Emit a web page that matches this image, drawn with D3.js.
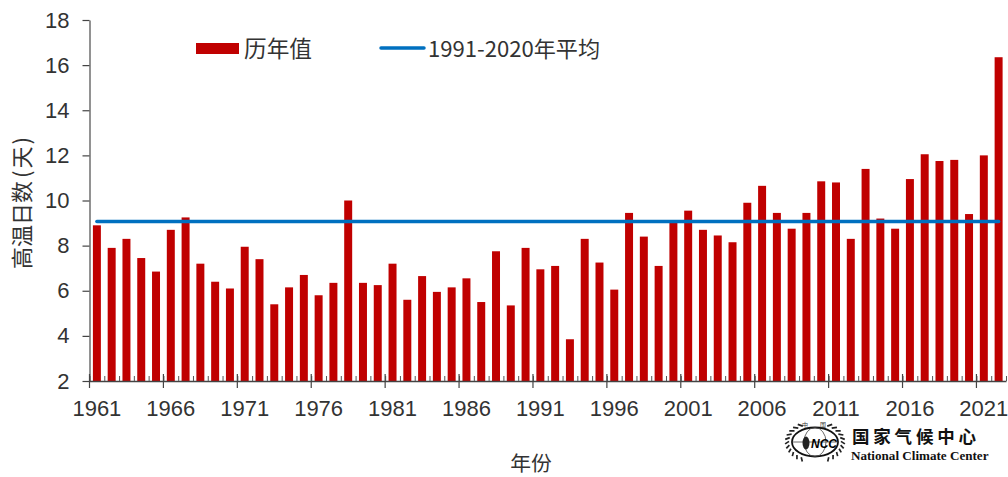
<!DOCTYPE html>
<html>
<head>
<meta charset="utf-8">
<script src="https://cdn.jsdelivr.net/npm/d3@7"></script>
<style>
  html, body { margin: 0; padding: 0; background: #fff; overflow: hidden; }
  text { fill: #333; font-family: "Liberation Sans", Arial, sans-serif; }
  .cjk { font-family: "Noto Sans CJK SC", sans-serif; }
</style>
</head>
<body>
<div id="chart"></div>
<script>
const years = d3.range(1961, 2023);
const days = [
  8.9, 7.9, 8.3, 7.45, 6.85, 8.7, 9.25, 7.2, 6.4, 6.1,
  7.95, 7.4, 5.4, 6.15, 6.7, 5.8, 6.35, 10, 6.35, 6.25,
  7.2, 5.6, 6.65, 5.95, 6.15, 6.55, 5.5, 7.75, 5.35, 7.9,
  6.95, 7.1, 3.85, 8.3, 7.25, 6.05, 9.45, 8.4, 7.1, 9.05,
  9.55, 8.7, 8.45, 8.15, 9.9, 10.65, 9.45, 8.75, 9.45, 10.85,
  10.8, 8.3, 11.4, 9.2, 8.75, 10.95, 12.05, 11.75, 11.8, 9.4,
  12.0, 16.35
];
const average = 9.07;
const yTicks = [2, 4, 6, 8, 10, 12, 14, 16, 18];
const labelYears = d3.range(1961, 2022, 5);

const width = 1008, height = 477;
const plotLeft = 89.5, plotRight = 1006, plotTop = 20, plotBottom = 381;

const svg = d3.select('#chart').append('svg')
  .attr('width', width)
  .attr('height', height)
  .style('display', 'block');

const x = d3.scaleBand().domain(years).range([plotLeft, plotRight]).paddingInner(0.46).paddingOuter(0.23);
// same span as the bands, used for ticks which sit between the bars
const xEdge = d3.scaleLinear().domain([1961, 2023]).range([plotLeft, plotRight]);
const y = d3.scaleLinear().domain([2, 18]).range([plotBottom, plotTop]);

// bars
svg.append('g').selectAll('rect')
  .data(years)
  .enter().append('rect')
  .attr('x', d => x(d))
  .attr('width', x.bandwidth())
  .attr('y', (d, i) => y(days[i]))
  .attr('height', (d, i) => plotBottom - y(days[i]))
  .attr('fill', '#c00000');

// mean line
const mean = d3.line().x(d => x(d) + x.bandwidth() / 2).y(() => y(average));
svg.append('path')
  .attr('d', mean([years[0], years[years.length - 1]]))
  .attr('fill', 'none')
  .attr('stroke', '#0070c0')
  .attr('stroke-width', 3.5)
  .attr('stroke-linecap', 'round');

// y axis
const yAxis = svg.append('g')
  .attr('transform', `translate(${plotLeft},0)`)
  .call(d3.axisLeft(y).tickValues(yTicks).tickSize(7).tickPadding(13).tickSizeOuter(0));
yAxis.selectAll('text').style('font-size', '22px').attr('dy', '0.32em');
yAxis.selectAll('line').attr('stroke', '#444').attr('stroke-width', 1.2);
yAxis.select('.domain').attr('stroke', '#777').attr('stroke-width', 1.6);

// x axis: minor ticks inside, major ones across the line
const minor = svg.append('g')
  .attr('transform', `translate(0,${plotBottom})`)
  .call(d3.axisTop(xEdge).tickValues(d3.range(1961, 2024)).tickSize(5).tickFormat('').tickSizeOuter(0));
minor.selectAll('line').attr('stroke', '#555').attr('stroke-width', 1);
minor.select('.domain').attr('stroke', '#444').attr('stroke-width', 1.3);

const major = svg.append('g').attr('transform', `translate(0,${plotBottom})`);
major.selectAll('line')
  .data(labelYears)
  .enter().append('line')
  .attr('x1', d => xEdge(d)).attr('x2', d => xEdge(d))
  .attr('y1', -7).attr('y2', 7)
  .attr('stroke', '#444')
  .attr('stroke-width', 1.2);

svg.append('g').selectAll('text')
  .data(labelYears)
  .enter().append('text')
  .attr('x', d => x(d) + x.bandwidth() / 2)
  .attr('y', 416)
  .attr('text-anchor', 'middle')
  .style('font-size', '22px')
  .text(d => d);

// axis titles
const yTitle = svg.append('text')
  .attr('class', 'cjk')
  .attr('transform', 'translate(30,203) rotate(-90)')
  .attr('text-anchor', 'middle')
  .style('font-size', '22px');
yTitle.append('tspan').text('高温日数');
yTitle.append('tspan').attr('dx', 3).text('(');
yTitle.append('tspan').attr('dx', 2).text('天');
yTitle.append('tspan').attr('dx', 2).text(')');

svg.append('text')
  .attr('class', 'cjk')
  .attr('x', 531)
  .attr('y', 471)
  .attr('text-anchor', 'middle')
  .style('font-size', '20.8px')
  .text('年份');

// legend
svg.append('rect')
  .attr('x', 196).attr('y', 43).attr('width', 43).attr('height', 11)
  .attr('fill', '#c00000');
svg.append('text')
  .attr('class', 'cjk')
  .attr('x', 244).attr('y', 57)
  .style('font-size', '22.7px')
  .text('历年值');
svg.append('line')
  .attr('x1', 381).attr('x2', 424).attr('y1', 48).attr('y2', 48)
  .attr('stroke', '#0070c0').attr('stroke-width', 3.5).attr('stroke-linecap', 'round');
svg.append('text')
  .attr('class', 'cjk')
  .attr('x', 428).attr('y', 57)
  .style('font-size', '22.1px')
  .text('1991-2020年平均');

// NCC logo
const logo = svg.append('g').attr('transform', 'translate(815,442)');
logo.append('ellipse').attr('rx', 23).attr('ry', 14.5)
  .attr('fill', 'none').attr('stroke', '#111').attr('stroke-width', 1.8);
logo.append('ellipse').attr('rx', 11).attr('ry', 14.5)
  .attr('fill', 'none').attr('stroke', '#444').attr('stroke-width', 0.8);
logo.append('line').attr('x1', -23).attr('x2', 23)
  .attr('stroke', '#444').attr('stroke-width', 0.8);
logo.append('ellipse').attr('cx', -9).attr('cy', 1).attr('rx', 3.5).attr('ry', 6.5)
  .attr('fill', '#222');
// wreath leaves on both sides, the top stays open for the two characters
const leafAngles = d3.range(-62, 63, 12);
[-1, 1].forEach(side => {
  logo.append('g').selectAll('line')
    .data(leafAngles)
    .enter().append('line')
    .attr('x1', d => side * 26 * Math.cos(d * Math.PI / 180))
    .attr('y1', d => 18 * Math.sin(d * Math.PI / 180))
    .attr('x2', d => side * 30 * Math.cos((d + 7) * Math.PI / 180))
    .attr('y2', d => 21.5 * Math.sin((d + 7) * Math.PI / 180))
    .attr('stroke', '#222')
    .attr('stroke-width', 1.7);
});
logo.append('text')
  .attr('x', 9).attr('y', 6)
  .attr('text-anchor', 'middle')
  .style('font-size', '12px').style('font-weight', 'bold').style('font-style', 'italic').style('fill', '#000')
  .text('NCC');
logo.append('text').attr('class', 'cjk').attr('x', -10).attr('y', -15.5)
  .attr('text-anchor', 'middle').style('font-size', '6px').text('中');
logo.append('text').attr('class', 'cjk').attr('x', 8).attr('y', -15.5)
  .attr('text-anchor', 'middle').style('font-size', '6px').text('国');

svg.append('text')
  .attr('class', 'cjk')
  .attr('x', 852).attr('y', 443)
  .style('font-size', '17.5px').style('font-weight', 'bold').style('letter-spacing', '3.8px').style('fill', '#111')
  .text('国家气候中心');
svg.append('text')
  .attr('x', 851).attr('y', 460)
  .style('font-family', '"Liberation Serif", serif')
  .style('font-size', '13.1px').style('font-weight', 'bold').style('fill', '#111')
  .text('National Climate Center');
</script>
</body>
</html>
